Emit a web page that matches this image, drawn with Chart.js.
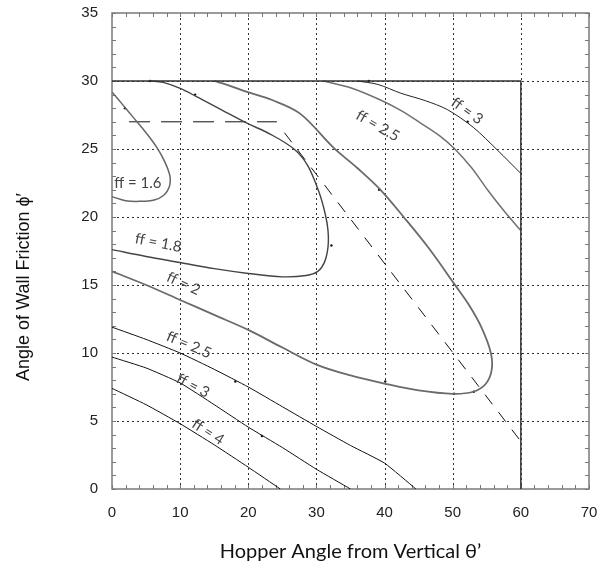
<!DOCTYPE html>
<html>
<head>
<meta charset="utf-8">
<script src="https://cdn.jsdelivr.net/npm/chart.js@4.4.0/dist/chart.umd.min.js"></script>
<style>
  html, body { margin: 0; padding: 0; background: #fff; }
</style>
</head>
<body>
<canvas id="canvas" width="598" height="571"></canvas>
<script>
  //-----------------------
  // - FLOW FACTOR CHART -
  //-----------------------

  // contour lines, [hopper angle, wall friction]
  const ff16 = [[0, 29.2], [1.5, 28.3], [3, 27.4], [5, 26.2], [6.6, 25.1], [7.8, 24], [8.5, 23], [8.4, 22.2], [7.6, 21.6], [6.2, 21.25], [4, 21.15], [2, 21.2], [0, 21.5]];
  const ff18 = [[0, 17.6], [5, 17.1], [10, 16.65], [15, 16.2], [20, 15.85], [25, 15.6], [28.5, 15.7], [30.2, 16.0], [31.2, 16.7], [31.7, 17.8], [31.7, 19], [31.3, 20.2], [30.4, 21.8], [28.7, 23.8], [26.7, 25], [23.2, 26.1], [19.8, 26.9], [16, 27.9], [12.4, 28.85], [10, 29.45], [7.5, 29.9], [5.5, 30]];
  const ff2 = [[0, 16], [5, 15], [10, 13.9], [15, 12.8], [20, 11.7], [25, 10.4], [30, 9.15], [35, 8.35], [40, 7.75], [45, 7.25], [50, 7.0], [53, 7.15], [54.8, 7.7], [55.7, 8.7], [55.6, 10], [54.2, 11.9], [52.3, 13.6], [50.2, 15.1], [46.5, 17.7], [42.8, 20], [39.4, 22], [36, 23.6], [32.5, 25.1], [27.6, 27.6], [23.5, 28.6], [19.8, 29.2], [17, 29.7], [15, 30]];
  const ff25Upper = [[31, 30], [35, 29.5], [39.4, 28.6], [42.5, 27.8], [45.3, 26.9], [48, 26], [50.2, 25.05], [52.8, 23.6], [55.1, 22], [57.6, 20.4], [60, 19]];
  const ff3Upper = [[36, 30], [39, 29.75], [42.4, 29.1], [46, 28.55], [49.2, 27.9], [53, 26.6], [56.6, 24.9], [60, 23.2]];
  const ff25Lower = [[0, 11.9], [5, 11], [10, 10], [15, 8.8], [20, 7.5], [25, 6.05], [30, 4.6], [35, 3.2], [40, 1.9], [44.6, 0]];
  const ff3Lower = [[0, 9.7], [5, 8.9], [10, 7.8], [15, 6.2], [20, 4.55], [25, 3.05], [30, 1.45], [35, 0]];
  const ff4 = [[0, 7.4], [5, 6.2], [10, 4.8], [15, 3.25], [20, 1.6], [24.7, 0]];

  // limit box and the two dashed guide lines
  const limitBox = [[0, 30], [60, 30], [60, 0]];
  const guideFlat = [[2.5, 27], [24.2, 27]];
  const guideSlope = [[25.3, 26.2], [60, 3.5]];

  // little stray markers on the curves
  const dots = [[1.9, 28], [5.6, 30], [12.2, 29], [32.2, 17.9], [37.7, 30], [39.2, 22], [52.2, 27], [40.1, 7.9], [50.2, 7.0], [53.1, 7.15], [18.1, 7.9], [22, 3.9]];

  // curve labels
  const labelText = ['ff = 1.6', 'ff = 1.8', 'ff = 2', 'ff = 2.5', 'ff = 3', 'ff = 4', 'ff = 2.5', 'ff = 3'];
  const labelX = [3.8, 6.8, 10.5, 11.3, 11.9, 14.1, 39, 52.1];
  const labelY = [22.5, 18.1, 15.1, 10.6, 7.6, 4.2, 26.7, 27.8];
  const labelAngle = [0, 11, 25, 23, 28, 33, 30, 35];

  const xTicks = [0, 10, 20, 30, 40, 50, 60, 70];
  const yTicks = [0, 5, 10, 15, 20, 25, 30, 35];

  const xTitle = 'Hopper Angle from Vertical \u03b8\u2019';
  const yTitle = 'Angle of Wall Friction \u03d5\u2032';

  function curve(data, color, width, tension) {
    return {
      data: data.map(p => ({ x: p[0], y: p[1] })),
      showLine: true,
      borderColor: color,
      backgroundColor: color,
      borderWidth: width,
      pointRadius: 0,
      tension: tension,
      fill: false
    };
  }

  function straight(data, color, width, dash) {
    return {
      data: data.map(p => ({ x: p[0], y: p[1] })),
      showLine: true,
      borderColor: color,
      borderWidth: width,
      borderDash: dash,
      pointRadius: 0,
      tension: 0,
      fill: false
    };
  }

  // grid, frame and inward ticks drawn under the curves
  const framePlugin = {
    id: 'frame',
    beforeDatasetsDraw(chart) {
      const { ctx, chartArea: a, scales: { x, y } } = chart;
      ctx.save();

      ctx.strokeStyle = '#333';
      ctx.lineWidth = 1;
      ctx.setLineDash([2, 3]);
      ctx.beginPath();
      xTicks.slice(1, -1).forEach(v => {
        const px = Math.round(x.getPixelForValue(v)) + 0.5;
        ctx.moveTo(px, a.top);
        ctx.lineTo(px, a.bottom);
      });
      yTicks.slice(1, -1).forEach(v => {
        const py = Math.round(y.getPixelForValue(v)) + 0.5;
        ctx.moveTo(a.left, py);
        ctx.lineTo(a.right, py);
      });
      ctx.stroke();

      ctx.setLineDash([]);
      ctx.strokeStyle = '#777';
      ctx.lineWidth = 1;
      ctx.beginPath();
      for (let v = 0; v <= 70; v += 2) {
        const px = Math.round(x.getPixelForValue(v)) + 0.5;
        ctx.moveTo(px, a.bottom);
        ctx.lineTo(px, a.bottom - 4);
        ctx.moveTo(px, a.top);
        ctx.lineTo(px, a.top + 4);
      }
      for (let v = 0; v <= 35; v += 1) {
        const py = Math.round(y.getPixelForValue(v)) + 0.5;
        ctx.moveTo(a.left, py);
        ctx.lineTo(a.left + 4, py);
        ctx.moveTo(a.right, py);
        ctx.lineTo(a.right - 4, py);
      }
      ctx.stroke();

      ctx.strokeStyle = '#7a7a7a';
      ctx.lineWidth = 1.5;
      ctx.strokeRect(a.left, a.top, a.right - a.left, a.bottom - a.top);
      ctx.restore();
    },
    afterDatasetsDraw(chart) {
      const { ctx, chartArea: a, scales: { x, y } } = chart;
      ctx.save();
      ctx.fillStyle = '#444';
      ctx.font = '15px Lato';
      ctx.textAlign = 'center';
      ctx.textBaseline = 'middle';
      labelText.forEach((t, i) => {
        ctx.save();
        ctx.translate(x.getPixelForValue(labelX[i]), y.getPixelForValue(labelY[i]));
        ctx.rotate(labelAngle[i] * Math.PI / 180);
        ctx.fillText(t, 0, 0);
        ctx.restore();
      });

      // axis titles
      ctx.fillStyle = '#111';
      ctx.font = '20px Lato';
      ctx.fillText(xTitle, (a.left + a.right) / 2, 552);
      ctx.font = '18px "Liberation Sans"';
      ctx.translate(24, 287);
      ctx.rotate(-Math.PI / 2);
      ctx.fillText(yTitle, 0, 0);
      ctx.restore();
    }
  };

  const ctx = document.getElementById('canvas').getContext('2d');

  const myChart = new Chart(ctx, {
    type: 'scatter',
    data: {
      datasets: [
        straight(limitBox, '#333', 1.5, []),
        curve(ff16, '#666', 1.5, 0.35),
        curve(ff18, '#444', 1.4, 0.35),
        curve(ff2, '#6a6a6a', 1.8, 0.35),
        curve(ff25Upper, '#707070', 1.5, 0.3),
        curve(ff3Upper, '#222', 1, 0.3),
        curve(ff25Lower, '#111', 1, 0.15),
        curve(ff3Lower, '#111', 1, 0.15),
        curve(ff4, '#111', 1, 0.15),
        straight(guideFlat, '#111', 1, [21, 11]),
        straight(guideSlope, '#111', 1, [12, 10]),
        {
          data: dots.map(p => ({ x: p[0], y: p[1] })),
          pointRadius: 1.2,
          pointBackgroundColor: '#111',
          pointBorderWidth: 0,
          showLine: false
        }
      ]
    },
    options: {
      responsive: false,
      animation: false,
      layout: { padding: { top: 13, right: 9, left: 0, bottom: 0 } },
      plugins: { legend: { display: false }, tooltip: { enabled: false } },
      scales: {
        x: {
          type: 'linear',
          min: 0,
          max: 70,
          afterFit: s => { s.height = 82; s.paddingLeft = 0; s.paddingRight = 0; },
          afterBuildTicks: s => { s.ticks = xTicks.map(v => ({ value: v })); },
          ticks: { padding: 15, color: '#222', font: { family: 'Liberation Sans', size: 15 } },
          grid: { display: false, drawTicks: false },
          border: { display: false }
        },
        y: {
          type: 'linear',
          min: 0,
          max: 35,
          afterFit: s => { s.width = 112; s.paddingTop = 0; s.paddingBottom = 0; },
          afterBuildTicks: s => { s.ticks = yTicks.map(v => ({ value: v })); },
          ticks: { padding: 14, color: '#222', font: { family: 'Liberation Sans', size: 15 } },
          grid: { display: false, drawTicks: false },
          border: { display: false }
        }
      }
    },
    plugins: [framePlugin]
  });
</script>
</body>
</html>
